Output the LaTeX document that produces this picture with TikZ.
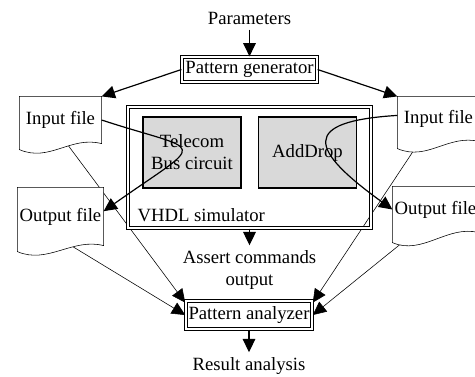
\documentclass[tikz,border=0pt]{standalone}
\usepackage{fontspec}
\setmainfont{Liberation Serif}
\usetikzlibrary{arrows.meta,backgrounds}

\begin{document}
\begin{tikzpicture}[>={Triangle[length=9.5pt,width=9pt]}, line width=0.85pt,
  font=\fontsize{13.3}{15.6}\selectfont,
  dbl/.style={draw, double, double distance=1.1pt, inner sep=0pt},
  unit/.style={draw, fill=black!15, align=center, minimum width=2.45cm, minimum height=1.775cm},
  file/.style={inner sep=0pt}]
\useasboundingbox (0,0) rectangle (11.875,-9.4);

\node (par) at (6.2375,-0.45) {Parameters};
\node[dbl, minimum width=3.375cm, minimum height=0.625cm] (gen) at (6.2375,-1.7375) {Pattern generator};
\node[dbl, minimum width=6.08cm, minimum height=3.03cm] (sim) at (6.2375,-4.1875) {};
\node[unit] (tb) at (4.8,-3.8125) {Telecom\\Bus circuit};
\node[unit] (ad) at (7.6875,-3.8125) {AddDrop};
\node[anchor=west, inner sep=0pt] (vs) at (3.425,-5.375) {VHDL simulator};
\node[align=center] (ac) at (6.2375,-6.75) {Assert commands\\output};
\node[dbl, minimum width=3.16cm, minimum height=0.71cm] (an) at (6.225,-7.875) {Pattern analyzer};
\node (res) at (6.225,-9.15) {Result analysis};

% files, outlines drawn on the background layer
\node[file, minimum width=2.025cm, minimum height=1.15cm] (inl) at (1.5125,-3.0) {Input file};
\node[file, minimum width=2.125cm, minimum height=1.425cm] (outl) at (1.5125,-5.4125) {Output file};
\node[file, minimum width=2.025cm, minimum height=1.1cm] (inr) at (10.9625,-2.975) {Input file};
\node[file, minimum width=2.125cm, minimum height=1.125cm] (outr) at (10.8875,-5.2375) {Output file};

\begin{scope}[on background layer]
\draw[->] (inl.-75) -- (an.169);
\draw[->] (outl.-70) -- (an.west);
\draw[->] (inr.-130) -- (an.11);
\draw[->] (outr.-132) -- (an.east);
\foreach \f/\d in {inl/0.15, outl/0.15, inr/0.175, outr/0.25}
  \draw[fill=white] ([yshift=-\d cm]\f.south west) -- (\f.north west) -- (\f.north east) -- (\f.south east)
    .. controls +(-0.775,0.2) and +(0.75,-0.325) .. ([yshift=-\d cm]\f.south west) -- cycle;
\end{scope}

\draw[->] (par) -- (gen);
\draw[->] (gen.west) -- (inl.north east);
\draw[->] (gen.east) -- (inr.north west);
\draw[->] (inl.east) .. controls +(2.6,-0.85) and +(2.625,1.85) .. (outl.7);
\draw[->] (inr.175) .. controls +(-2.45,-0.15) and +(-2.075,1.5) .. (outr.west);
\draw[->] (sim) -- (ac);
\draw[->] (an) -- (res);
\end{tikzpicture}
\end{document}
